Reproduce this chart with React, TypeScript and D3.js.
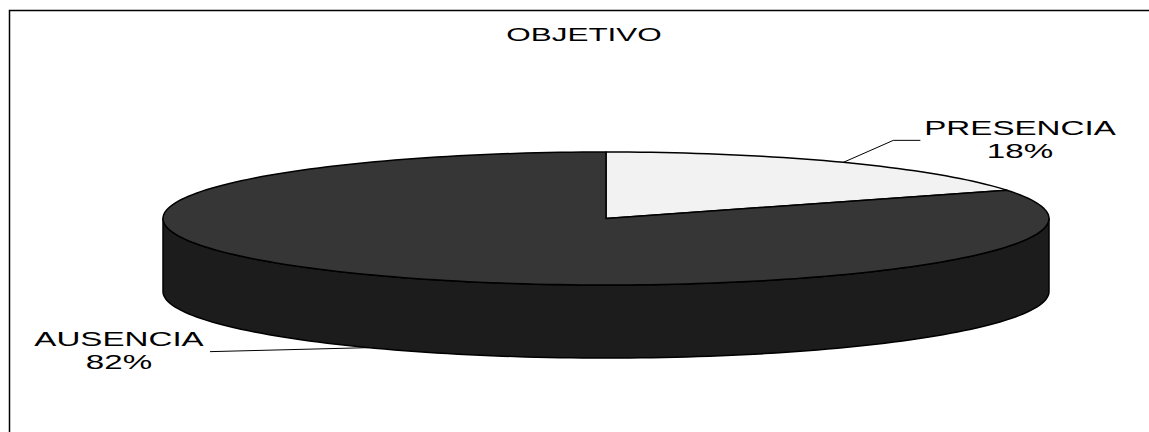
import React from "react";
import * as d3 from "d3";

const categories = ["PRESENCIA", "AUSENCIA"];
const values = [18, 82];
const percentLabels = ["18%", "82%"];
const title = "OBJETIVO";

const W = 1149;
const H = 432;
const cx = 606;
const cy = 218.5;
const rx = 443;
const ry = 66.5;
const depth = 73;
const topColors = ["#f2f2f2", "#363636"];
const sideColors = ["#bdbdbd", "#1c1c1c"];
const SX = 1.7;

function pt(t: number, dy = 0): [number, number] {
  return [cx + rx * Math.sin(t), cy - ry * Math.cos(t) + dy];
}

function arcPoints(a0: number, a1: number, dy = 0): [number, number][] {
  const n = Math.max(2, Math.ceil(((a1 - a0) / (2 * Math.PI)) * 240));
  return d3.range(n + 1).map((i) => pt(a0 + ((a1 - a0) * i) / n, dy));
}

export default function App() {
  const pie = d3.pie<number>().sort(null).startAngle(0).endAngle(2 * Math.PI);
  const arcs = pie(values);
  const line = d3.line();

  const sides: { d: string; fill: string }[] = [];
  arcs.forEach((a, i) => {
    const s = Math.max(a.startAngle, Math.PI / 2);
    const e = Math.min(a.endAngle, (3 * Math.PI) / 2);
    if (e > s) {
      const top = arcPoints(s, e);
      const bottom = arcPoints(s, e, depth).reverse();
      sides.push({ d: line([...top, ...bottom])! + "Z", fill: sideColors[i] });
    }
  });

  const tops = arcs.map((a, i) => {
    const pts: [number, number][] = [[cx, cy], ...arcPoints(a.startAngle, a.endAngle)];
    return { d: line(pts)! + "Z", fill: topColors[i] };
  });

  // leader lines & labels
  const mids = arcs.map((a) => (a.startAngle + a.endAngle) / 2);
  const pA = pt(mids[0]);
  const pB = pt(mids[1], depth);
  const leaderP: [number, number][] = [pA, [pA[0] + 50, pA[1] - 22], [pA[0] + 77, pA[1] - 22]];
  const leaderA: [number, number][] = [pB, [210, pB[1] + 4]];

  const labelPos = [
    { x: 1020, y: 135 },
    { x: 119, y: 346 },
  ];

  const textStyle: React.CSSProperties = {
    fontFamily: "'Liberation Sans', Arial, sans-serif",
    fontSize: 19.5,
    fill: "#000",
  };

  return (
    <svg width={W} height={H} style={{ position: "absolute", left: 0, top: 0, display: "block" }}>
      <rect x={0} y={0} width={W} height={H} fill="#fff" />
      <rect x={9.5} y={10.5} width={W + 20} height={H + 20} fill="none" stroke="#000" strokeWidth={1.5} />
      <g transform={`translate(584,41) scale(${SX},1)`}>
        <text textAnchor="middle" style={{ ...textStyle, fontSize: 18.5 }}>{title}</text>
      </g>
      {sides.map((s, i) => (
        <path key={"s" + i} d={s.d} fill={s.fill} stroke="#000" strokeWidth={1.5} strokeLinejoin="round" />
      ))}
      {tops.map((t, i) => (
        <path key={"t" + i} d={t.d} fill={t.fill} stroke="#000" strokeWidth={1.5} strokeLinejoin="round" />
      ))}
      <path d={line(leaderP)!} fill="none" stroke="#000" strokeWidth={1} />
      <path d={line(leaderA)!} fill="none" stroke="#000" strokeWidth={1} />
      {categories.map((c, i) => (
        <g key={c} transform={`translate(${labelPos[i].x},${labelPos[i].y}) scale(${SX},1)`}>
          <text textAnchor="middle" style={textStyle}>{c}</text>
          <text textAnchor="middle" y={23.5} style={textStyle}>{percentLabels[i]}</text>
        </g>
      ))}
    </svg>
  );
}
